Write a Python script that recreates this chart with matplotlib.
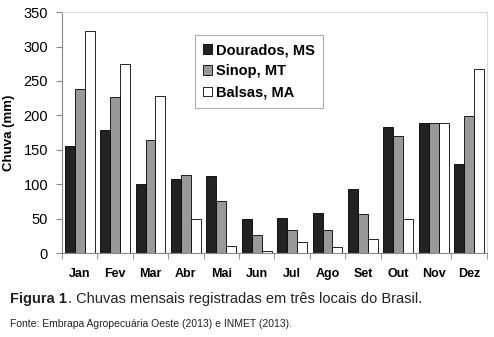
import numpy as np
import matplotlib.pyplot as plt

plt.rcParams['font.family'] = ['Liberation Sans', 'DejaVu Sans']

months = ["Jan", "Fev", "Mar", "Abr", "Mai", "Jun", "Jul", "Ago", "Set", "Out", "Nov", "Dez"]
dourados = [155, 179, 100, 107, 112, 49, 51, 58, 93, 183, 189, 130]
sinop = [238, 226, 164, 113, 76, 26, 34, 33, 57, 170, 189, 199]
balsas = [323, 274, 228, 50, 10, 3, 16, 9, 21, 49, 189, 267]

fig = plt.figure(figsize=(4.94, 3.37), dpi=100)
ax = fig.add_axes([0.1255, 0.249, 0.86, 0.715])

x = np.arange(len(months))
w = 0.28
ax.bar(x - w, dourados, w, color='#222222', edgecolor='black', linewidth=0.6, label='Dourados, MS')
ax.bar(x, sinop, w, color='#999999', edgecolor='black', linewidth=0.6, label='Sinop, MT')
ax.bar(x + w, balsas, w, color='white', edgecolor='black', linewidth=0.6, label='Balsas, MA')

ax.set_xlim(-0.5, len(months) - 0.5)
ax.set_ylim(0, 350)
ax.set_yticks(range(0, 351, 50))
ax.set_xticks(x)
ax.set_xticklabels(months, fontweight='bold', fontsize=9)
ax.set_xticks(np.arange(-0.5, len(months), 1), minor=True)
ax.tick_params(axis='x', which='major', length=0, pad=11)
ax.tick_params(axis='x', which='minor', length=4, color='#888888')
ax.tick_params(axis='y', length=4, color='#888888', labelsize=10.5, pad=6)
ax.set_ylabel("Chuva (mm)", fontweight='bold', fontsize=9.5, labelpad=6)

for s in ['top', 'right']:
    ax.spines[s].set_color('#d8d8d8')
for s in ['left', 'bottom']:
    ax.spines[s].set_color('#888888')

leg = ax.legend(loc='upper left', bbox_to_anchor=(0.295, 0.935), frameon=True, fancybox=False,
                edgecolor='#999999', fontsize=10.5, handlelength=0.65, handleheight=0.65,
                handletextpad=0.25, labelspacing=0.5, borderpad=0.55)
leg.get_frame().set_linewidth(0.8)
for t in leg.get_texts():
    t.set_fontweight('bold')

fig.text(0.02, 0.1, "Figura 1", fontweight='bold', fontsize=10.5, color='#222222')
fig.text(0.137, 0.1, ". Chuvas mensais registradas em três locais do Brasil.", fontsize=10.5, color='#222222')
fig.text(0.02, 0.03, "Fonte: Embrapa Agropecuária Oeste (2013) e INMET (2013).", fontsize=7.5, color='#222222')

plt.savefig("out.png", dpi=100)
plt.close()
